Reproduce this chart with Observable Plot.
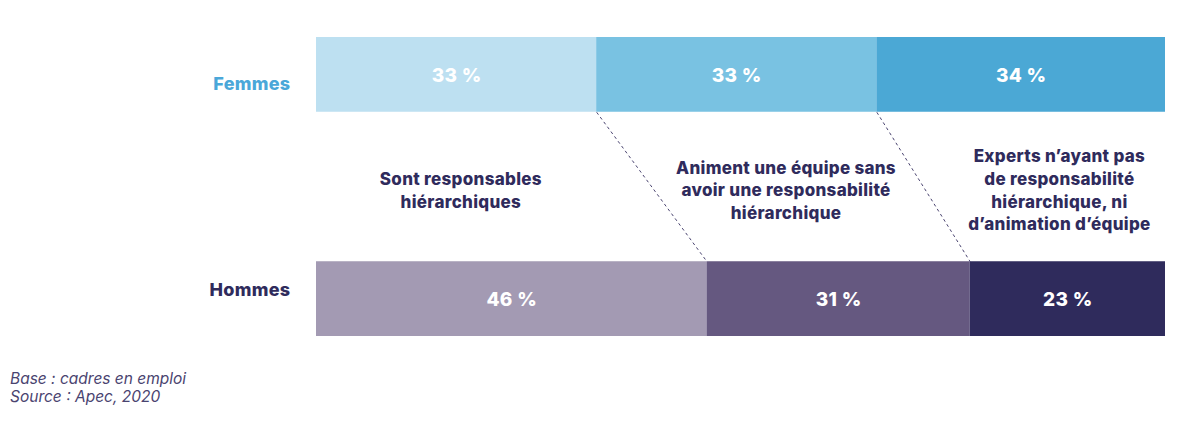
<!DOCTYPE html>
<html>
<head>
<meta charset="utf-8">
<script src="https://cdn.jsdelivr.net/npm/d3@7"></script>
<script src="https://cdn.jsdelivr.net/npm/@observablehq/plot@0.6"></script>
<style>
  body { margin: 0; background: #fff; font-family: Inter, "Noto Sans", sans-serif; }
  #caption { font-style: italic; font-size: 15.5px; line-height: 18px; color: #4a4470; padding: 10px 0 0 10px; }
  svg text { letter-spacing: 0.3px; }
</style>
</head>
<body>
<div id="chart"></div>
<div id="caption"></div>
<script>
const groups = ["Femmes", "Hommes"];
const categories = [
  "Sont responsables hiérarchiques",
  "Animent une équipe sans avoir une responsabilité hiérarchique",
  "Experts n’ayant pas de responsabilité hiérarchique, ni d’animation d’équipe"
];
const categoryLabels = [
  "Sont responsables\nhiérarchiques",
  "Animent une équipe sans\navoir une responsabilité\nhiérarchique",
  "Experts n’ayant pas\nde responsabilité\nhiérarchique, ni\nd’animation d’équipe"
];
const femmesValues = [33, 33, 34];
const hommesValues = [46, 31, 23];
const femmesColors = ["#bde0f1", "#79c2e2", "#4ba8d5"];
const hommesColors = ["#a39ab3", "#655880", "#2f2b5c"];
const groupColors = ["#4aa7d9", "#2f2b5c"];
const captionLines = ["Base : cadres en emploi", "Source : Apec, 2020"];

// build segments
const rows = [];
[[femmesValues, femmesColors, 0], [hommesValues, hommesColors, 3]].forEach(([vals, cols, y0], gi) => {
  let acc = 0;
  vals.forEach((v, i) => {
    rows.push({group: groups[gi], cat: categories[i], x1: acc, x2: acc + v, y1: y0, y2: y0 + 1, color: cols[i], v});
    acc += v;
  });
});
// connector links between boundaries
const links = [];
let fa = 0, ha = 0;
for (let i = 0; i < categories.length - 1; i++) {
  fa += femmesValues[i]; ha += hommesValues[i];
  links.push({x1: fa, x2: ha});
}
const labelX = [17, 55.3, 87.5];
const labelPos = categoryLabels.map((label, i) => ({label, x: labelX[i]}));

const chart = Plot.plot({
  width: 1200,
  height: 360,
  marginLeft: 316,
  marginRight: 35,
  marginTop: 37,
  marginBottom: 24,
  x: {domain: [0, 100], axis: null},
  y: {domain: [0, 4], axis: null, reverse: true},
  style: {fontFamily: "Inter, 'Noto Sans', sans-serif"},
  marks: [
    Plot.rect(rows, {x1: "x1", x2: "x2", y1: "y1", y2: "y2", fill: "color"}),
    Plot.text(rows, {x: d => (d.x1 + d.x2) / 2, y: d => (d.y1 + d.y2) / 2, dy: 1, text: d => `${d.v} %`, fill: "white", fontSize: 19, fontWeight: 800}),
    Plot.link(links, {x1: "x1", x2: "x2", y1: 1, y2: 3, stroke: "#4a4470", strokeWidth: 1, strokeDasharray: "3,3"}),
    Plot.text(labelPos, {x: "x", y: 2, dy: 2, text: "label", fill: "#2f2b5c", fontSize: 17, fontWeight: 800, lineHeight: 1.33, textAnchor: "middle"}),
    Plot.text([groups[0]], {x: 0, y: 0.5, dy: 9, dx: -26, text: d => d, textAnchor: "end", fill: groupColors[0], fontSize: 18, fontWeight: 800}),
    Plot.text([groups[1]], {x: 0, y: 3.5, dy: -9, dx: -26, text: d => d, textAnchor: "end", fill: groupColors[1], fontSize: 18, fontWeight: 800})
  ]
});
document.getElementById("chart").appendChild(chart);
document.getElementById("caption").innerHTML = captionLines.join("<br>");
</script>
</body>
</html>
